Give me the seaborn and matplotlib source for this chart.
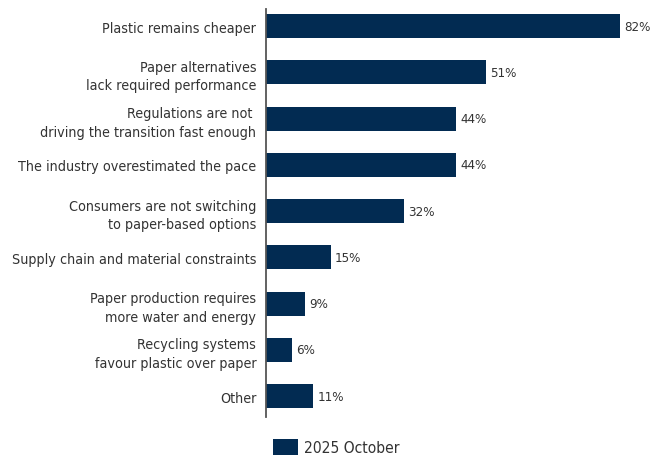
import pandas as pd
import seaborn as sns
import matplotlib.pyplot as plt
from matplotlib import font_manager

reasons = [
    "Plastic remains cheaper",
    "Paper alternatives\nlack required performance",
    "Regulations are not \ndriving the transition fast enough",
    "The industry overestimated the pace",
    "Consumers are not switching\nto paper-based options",
    "Supply chain and material constraints",
    "Paper production requires\nmore water and energy",
    "Recycling systems\nfavour plastic over paper",
    "Other",
]
shares = [82, 51, 44, 44, 32, 15, 9, 6, 11]
series = "2025 October"

navy = "#022b52"
text_col = "#333333"

sns.set_theme(style="white")

# look for a narrow face, otherwise fall back to Liberation Sans
narrow = None
for f in font_manager.fontManager.ttflist:
    if f.stretch in ("condensed", "semi-condensed", "extra-condensed") or \
            "Narrow" in f.name or "Condensed" in f.name:
        narrow = f
        break
if narrow is not None:
    plt.rcParams["font.family"] = [narrow.name, "DejaVu Sans"]
    plt.rcParams["font.stretch"] = narrow.stretch
    lab_size, val_size, leg_size = 10.3, 9.5, 11.2
else:
    plt.rcParams["font.family"] = ["Liberation Sans", "DejaVu Sans"]
    lab_size, val_size, leg_size = 10.2, 8.8, 11.5

df = pd.DataFrame({"Reason": reasons, "Share": shares, "Series": series})

fig = plt.figure(figsize=(6.64, 4.6), dpi=100)
ax = fig.add_axes([266 / 664, 42 / 460, 398 / 664, 408 / 460])

sns.barplot(data=df, y="Reason", x="Share", hue="Series", palette=[navy],
            orient="h", width=0.52, ax=ax, linewidth=0, saturation=1)

ax.set_xlim(0, 92.2)
ax.set_ylim(8.45, -0.37)
ax.set_xlabel("")
ax.set_ylabel("")
ax.set_xticks([])
ax.tick_params(axis="y", length=0, pad=7, labelsize=lab_size, labelcolor=text_col)
for lbl in ax.get_yticklabels():
    lbl.set_linespacing(1.4)

for s in ["top", "right", "bottom"]:
    ax.spines[s].set_visible(False)
ax.spines["left"].set_color("#555555")
ax.spines["left"].set_linewidth(1.3)

for c in ax.containers:
    ax.bar_label(c, labels=[f"{v}%" for v in shares], padding=3,
                 fontsize=val_size, color=text_col)

ax.legend(loc="center left", bbox_to_anchor=(273 / 664, 12 / 460),
          bbox_transform=fig.transFigure, frameon=False, fontsize=leg_size,
          handlelength=1.6, handleheight=1.2, handletextpad=0.4,
          labelcolor=text_col, borderaxespad=0, borderpad=0)

fig.savefig("out.png", dpi=100)
